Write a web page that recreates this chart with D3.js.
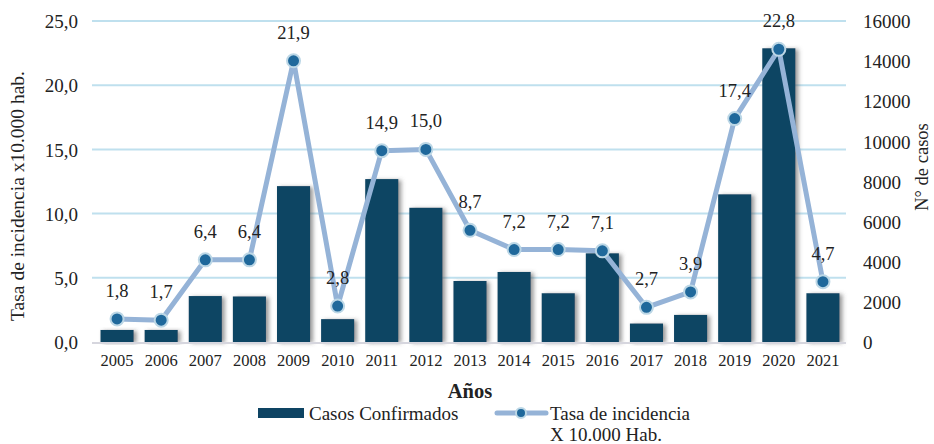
<!DOCTYPE html>
<html>
<head>
<meta charset="utf-8">
<script src="https://cdn.jsdelivr.net/npm/d3@7"></script>
<style>
    body { margin: 0; background: #fff; }
</style>
</head>
<body>
<div id="vis"></div>
<script>
// data
let years = ['2005', '2006', '2007', '2008', '2009', '2010', '2011', '2012', '2013',
    '2014', '2015', '2016', '2017', '2018', '2019', '2020', '2021'];
let casos = [600, 600, 2290, 2270, 7770, 1140, 8120, 6690, 3040,
    3490, 2430, 4420, 920, 1350, 7360, 14640, 2430];
let tasa = [1.8, 1.7, 6.4, 6.4, 21.9, 2.8, 14.9, 15.0, 8.7,
    7.2, 7.2, 7.1, 2.7, 3.9, 17.4, 22.8, 4.7];
let leftTicks = [0, 5, 10, 15, 20, 25];
let rightTicks = [0, 2000, 4000, 6000, 8000, 10000, 12000, 14000, 16000];

let width = 934, height = 444;
let margin = {top: 21, right: 89, bottom: 102, left: 95};
let font = 'Liberation Serif';

let fmt = d => d3.format('.1f')(d).replace('.', ',');

let svg = d3.select('#vis')
    .append('svg')
    .attr('width', width)
    .attr('height', height)
    .attr('font-family', font);

// shadow for the bars
svg.append('defs')
    .append('filter')
    .attr('id', 'shadow')
    .attr('x', '-20%').attr('y', '-20%')
    .attr('width', '160%').attr('height', '140%')
    .append('feDropShadow')
    .attr('dx', 3).attr('dy', 1)
    .attr('stdDeviation', 2)
    .attr('flood-color', '#555')
    .attr('flood-opacity', 0.6);

// scales
let xScale = d3.scaleBand()
    .domain(years)
    .range([margin.left, width - margin.right])
    .paddingInner(0.25)
    .paddingOuter(0.125);

let yLeft = d3.scaleLinear()
    .domain([0, 25])
    .range([height - margin.bottom, margin.top]);

let yRight = d3.scaleLinear()
    .domain([0, 16000])
    .range([height - margin.bottom, margin.top]);

// grid
svg.append('g')
    .selectAll('line')
    .data(leftTicks.filter(d => d > 0))
    .enter()
    .append('line')
    .attr('x1', 92)
    .attr('x2', width - margin.right + 1)
    .attr('y1', d => yLeft(d))
    .attr('y2', d => yLeft(d))
    .attr('stroke', '#bfe0ee')
    .attr('stroke-width', 2);

// left axis
let leftAxis = svg.append('g')
    .attr('transform', 'translate(78,0)')
    .call(d3.axisLeft(yLeft).tickValues(leftTicks).tickFormat(fmt).tickSize(0).tickPadding(0));
leftAxis.select('.domain').remove();
leftAxis.selectAll('text').attr('font-size', 19).attr('dy', '0.35em');

// right axis
let rightAxis = svg.append('g')
    .attr('transform', 'translate(863,0)')
    .call(d3.axisRight(yRight).tickValues(rightTicks).tickFormat(d3.format('d')).tickSize(0).tickPadding(0));
rightAxis.select('.domain').remove();
rightAxis.selectAll('text').attr('font-size', 19).attr('dy', '0.35em');

// bars
svg.append('g')
    .selectAll('rect')
    .data(casos)
    .enter()
    .append('rect')
    .attr('x', (d, i) => xScale(years[i]))
    .attr('y', d => yRight(d))
    .attr('width', xScale.bandwidth())
    .attr('height', d => yRight(0) - yRight(d))
    .attr('fill', '#0e4463')
    .attr('filter', 'url(#shadow)');

// baseline
svg.append('line')
    .attr('x1', 92)
    .attr('x2', width - margin.right + 1)
    .attr('y1', yLeft(0) + 1)
    .attr('y2', yLeft(0) + 1)
    .attr('stroke', '#d6d6de')
    .attr('stroke-width', 2);

// bottom axis
let xAxis = svg.append('g')
    .attr('transform', 'translate(0,' + (yLeft(0) + 12) + ')')
    .call(d3.axisBottom(xScale).tickSize(0).tickPadding(0));
xAxis.select('.domain').remove();
xAxis.selectAll('text').attr('font-size', 16.5);

// line
let cx = (d, i) => xScale(years[i]) + xScale.bandwidth() / 2;

let line = d3.line()
    .x(cx)
    .y(d => yLeft(d));

svg.append('path')
    .datum(tasa)
    .attr('d', line)
    .attr('fill', 'none')
    .attr('stroke', '#95b3d7')
    .attr('stroke-width', 5)
    .attr('stroke-linejoin', 'round');

svg.append('g')
    .selectAll('circle')
    .data(tasa)
    .enter()
    .append('circle')
    .attr('cx', cx)
    .attr('cy', d => yLeft(d))
    .attr('r', 6.5)
    .attr('fill', '#1f689b')
    .attr('stroke', '#bcd7e6')
    .attr('stroke-width', 2);

// point labels
svg.append('g')
    .selectAll('text')
    .data(tasa)
    .enter()
    .append('text')
    .attr('x', cx)
    .attr('y', d => yLeft(d) - 22)
    .attr('text-anchor', 'middle')
    .attr('font-size', 18.5)
    .text(fmt);

// axis titles
svg.append('text')
    .attr('transform', 'translate(24,196) rotate(-90)')
    .attr('text-anchor', 'middle')
    .attr('font-size', 19.5)
    .text('Tasa de incidencia  x10.000 hab.');

svg.append('text')
    .attr('transform', 'translate(928,167) rotate(-90)')
    .attr('text-anchor', 'middle')
    .attr('font-size', 18.5)
    .text('N° de casos');

svg.append('text')
    .attr('x', 470)
    .attr('y', 398)
    .attr('text-anchor', 'middle')
    .attr('font-size', 20.5)
    .attr('font-weight', 'bold')
    .text('Años');

// legend
let legend = svg.append('g');
legend.append('rect')
    .attr('x', 258).attr('y', 408)
    .attr('width', 46).attr('height', 10)
    .attr('fill', '#0e4463');
legend.append('text')
    .attr('x', 309).attr('y', 420)
    .attr('font-size', 19)
    .text('Casos Confirmados');

legend.append('line')
    .attr('x1', 497).attr('x2', 546)
    .attr('y1', 413).attr('y2', 413)
    .attr('stroke', '#95b3d7')
    .attr('stroke-width', 5)
    .attr('stroke-linecap', 'round');
legend.append('circle')
    .attr('cx', 521).attr('cy', 413)
    .attr('r', 5)
    .attr('fill', '#1f689b')
    .attr('stroke', '#bcd7e6')
    .attr('stroke-width', 2);
legend.append('text')
    .attr('x', 550).attr('y', 420)
    .attr('font-size', 19)
    .text('Tasa de incidencia');
legend.append('text')
    .attr('x', 550).attr('y', 441)
    .attr('font-size', 19)
    .text('X 10.000 Hab.');

// same serif face and colour on every text
svg.selectAll('text')
    .attr('font-family', font)
    .attr('fill', '#222');
</script>
</body>
</html>
